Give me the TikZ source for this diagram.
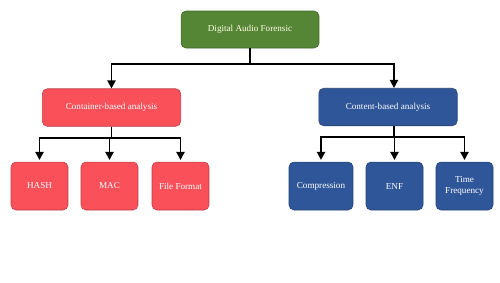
\documentclass[tikz,border=0pt]{standalone}
\usepackage{fontspec}
\setmainfont{Liberation Serif}
\usetikzlibrary{arrows.meta}
\definecolor{rootgreen}{HTML}{558636}
\definecolor{boxred}{HTML}{F9505A}
\definecolor{boxblue}{HTML}{2F5699}

\begin{document}
\begin{tikzpicture}[x=0.02cm, y=-0.02cm,
    box/.style={rounded corners=2.8pt, text=white, align=center, inner sep=0pt,
      font=\fontsize{5.2}{6.2}\selectfont, line width=0.3pt},
    rootbox/.style={box, fill=rootgreen, draw=rootgreen!75!black,
      minimum width=2.76cm, minimum height=0.74cm, text=white!90!yellow},
    redbox/.style={box, fill=boxred, draw=boxred!75!black},
    bluebox/.style={box, fill=boxblue, draw=boxblue!75!black},
    leaf/.style={minimum width=1.14cm, minimum height=0.96cm},
    mid/.style={minimum width=2.77cm, minimum height=0.75cm},
    link/.style={draw, line width=1.1pt},
    arr/.style={link, -{Triangle[width=4.6pt,length=4.6pt]}}]
    \useasboundingbox (0,0) rectangle (500,282);
    % root
    \node[rootbox] (root) at (250,29.5) {Digital Audio Forensic};
    % second level
    \node[redbox, mid] (container) at (111.5,107.5) {Container-based analysis};
    \node[bluebox, mid] (content) at (388,107) {Content-based analysis};
    % leaves
    \node[redbox, leaf] (hash) at (39.5,186) {HASH};
    \node[redbox, leaf] (mac) at (109.5,186) {MAC};
    \node[redbox, leaf] (fform) at (180.5,186) {File Format};
    \node[bluebox, leaf, minimum width=1.28cm] (compr) at (321,186) {Compression};
    \node[bluebox, leaf] (enf) at (394.5,186) {ENF};
    \node[bluebox, leaf] (tfreq) at (464.5,186) {Time\\Frequency};
    % connectors
    \coordinate (tsplit) at (250,64);
    \coordinate (lsplit) at (111.5,138);
    \coordinate (rsplit) at (394,137);
    \path[link] (root.south) -- (tsplit);
    \path[arr] (tsplit) -| (container.north);
    \path[arr] (tsplit) -| ([xshift=3.4pt]content.north);
    \path[link] (container.south) -- (lsplit);
    \path[link] ([xshift=3.4pt]content.south) -- (rsplit);
    \foreach \c in {hash,mac,fform}
        \path[arr] (lsplit) -| ([yshift=1pt]\c.north);
    \foreach \c in {compr,enf,tfreq}
        \path[arr] (rsplit) -| ([yshift=1pt]\c.north);
\end{tikzpicture}
\end{document}
